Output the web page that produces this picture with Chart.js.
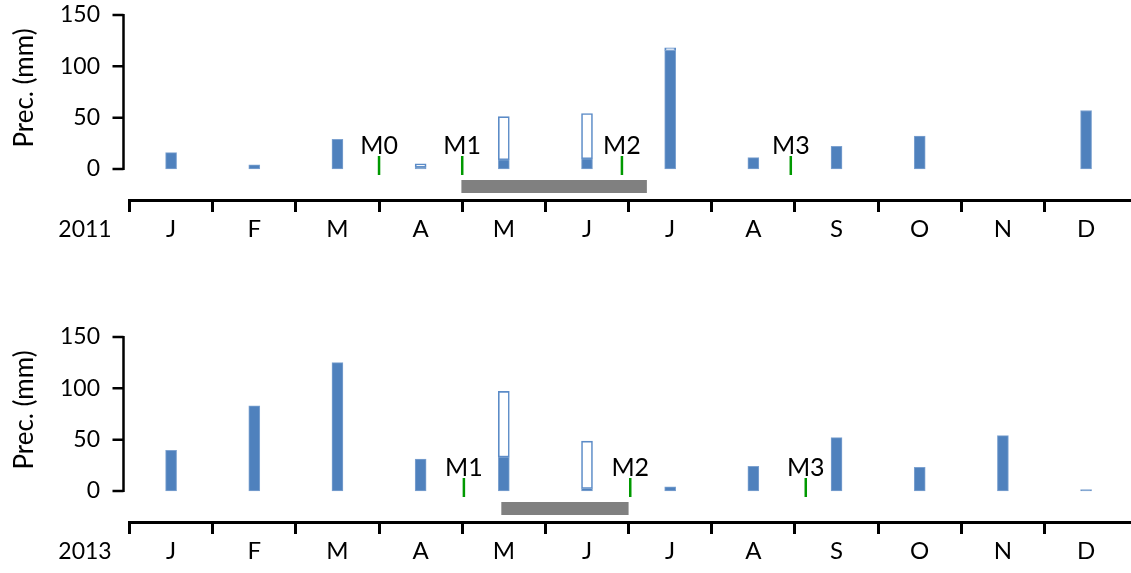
<!DOCTYPE html>
<html><head><meta charset="utf-8">
<script src="https://cdn.jsdelivr.net/npm/chart.js@4.4.0/dist/chart.umd.min.js"></script>
<style>
html,body{margin:0;padding:0;background:#fff;overflow:hidden;}
#wrap{position:relative;width:1131px;height:573px;background:#fff;}
#c1{position:absolute;left:0;top:0;}
#c2{position:absolute;left:0;top:322px;}
</style></head><body>
<div id="wrap"><canvas id="c1" width="1131" height="260"></canvas><canvas id="c2" width="1131" height="251"></canvas></div>
<script>
// ---- data ----
const months = ['J','F','M','A','M','J','J','A','S','O','N','D'];
const yTickValues = [0, 50, 100, 150];
const yTitle = 'Prec. (mm)';

const year2011 = '2011';
const filled2011 = [16, 4, 29, 2, 9, 10, 115.5, 11, 22, 32, null, 57];
const hollow2011 = [null, null, null, 3, 42, 44, 2.5, null, null, null, null, null];
const markerLabels2011 = ['M0', 'M1', 'M2', 'M3'];
const markerMonths2011 = [3.0, 4.0, 5.92, 7.95];
const period2011 = [3.99, 6.22];

const year2013 = '2013';
const filled2013 = [39.5, 83, 125, 31, 33, 2.5, 4, 24, 52, 23, 54, 1.5];
const hollow2013 = [null, null, null, null, 64, 46, null, null, null, null, null, null];
const markerLabels2013 = ['M1', 'M2', 'M3'];
const markerMonths2013 = [4.02, 6.02, 8.13];
const period2013 = [4.47, 6.0];

// ---- styles ----
const FONT = "Lato, 'Open Sans', sans-serif";
const BLUE = '#4F81BD';
const GREEN = '#009900';
const GRAY = '#808080';
const Y_MIN = -30.2, Y_MAX = 150;
const X_MAX = 12.04;
const MARK_Y = 3.5, GRAY_Y = -17;

Chart.defaults.font.family = FONT;
Chart.defaults.color = '#000';

const decoPlugin = {
  id: 'deco',
  afterDraw(chart, args, opts) {
    const ctx = chart.ctx;
    const ys = chart.scales.y;
    const ca = chart.chartArea;
    ctx.save();
    // y axis line and ticks
    const ax = ca.left - 6;
    ctx.strokeStyle = '#000';
    ctx.lineWidth = 2.5;
    ctx.beginPath();
    ctx.moveTo(ax, ys.getPixelForValue(0) + 1);
    ctx.lineTo(ax, ys.getPixelForValue(150) - 1);
    yTickValues.forEach(v => {
      const py = ys.getPixelForValue(v);
      ctx.moveTo(ax, py);
      ctx.lineTo(ax - 11, py);
    });
    ctx.stroke();
    // y title
    ctx.fillStyle = '#000';
    ctx.font = '26px ' + FONT;
    ctx.textAlign = 'center';
    ctx.textBaseline = 'middle';
    ctx.translate(25, 88);
    ctx.rotate(-Math.PI / 2);
    ctx.fillText(yTitle, 0, 0);
    ctx.restore();
    ctx.save();
    // year label
    ctx.fillStyle = '#000';
    ctx.font = '23px ' + FONT;
    ctx.textAlign = 'center';
    ctx.textBaseline = 'alphabetic';
    ctx.fillText(opts.year, 85, 237);
    // marker labels
    const meta = chart.getDatasetMeta(3);
    ctx.font = '25px ' + FONT;
    meta.data.forEach((el, i) => {
      const top = el.y - 9.5;
      ctx.fillText(opts.labels[i], el.x, top - 1.7);
    });
    ctx.restore();
  }
};

function zeroPad(s) { s.paddingTop = 0; s.paddingBottom = 0; s.paddingLeft = 0; s.paddingRight = 0; }

function makePanel(id, year, filled, hollow, mLabels, mMonths, period) {
  const canvas = document.getElementById(id);
  const H = canvas.height;
  return new Chart(canvas, {
    type: 'bar',
    data: {
      datasets: [
        {
          type: 'bar', stack: 'p',
          data: months.map((m, i) => ({x: i + 0.5, y: filled[i]})),
          backgroundColor: BLUE, borderColor: '#7DA2D0', borderWidth: 1,
          borderSkipped: false, barThickness: 11
        },
        {
          type: 'bar', stack: 'p',
          data: months.map((m, i) => ({x: i + 0.5, y: hollow[i]})),
          backgroundColor: '#ffffff', borderColor: '#5B8BC7', borderWidth: 1.6,
          borderSkipped: false, barThickness: 11
        },
        {
          type: 'line', stack: 'g',
          data: [{x: period[0], y: GRAY_Y}, {x: period[1], y: GRAY_Y}],
          borderColor: GRAY, borderWidth: 13, borderCapStyle: 'butt',
          pointRadius: 0, fill: false
        },
        {
          type: 'scatter', stack: 'm',
          data: mMonths.map(x => ({x: x, y: MARK_Y})),
          pointStyle: 'line', rotation: 90, radius: 9.5,
          borderColor: GREEN, backgroundColor: GREEN, borderWidth: 2.5
        }
      ]
    },
    options: {
      responsive: false,
      animation: false,
      devicePixelRatio: 1,
      layout: {autoPadding: false, padding: {top: 15, left: 0, right: 0, bottom: H - 200 - 45}},
      plugins: {legend: {display: false}, tooltip: {enabled: false}, deco: {year: year, labels: mLabels}},
      scales: {
        x: {
          type: 'linear', min: 0, max: X_MAX, stacked: true, offset: false,
          afterBuildTicks: s => { const t = []; for (let k = 0; k <= 24; k++) t.push({value: k / 2}); s.ticks = t; },
          afterFit: s => { s.height = 45; zeroPad(s); },
          ticks: {
            autoSkip: false, maxRotation: 0, minRotation: 0, padding: 3,
            font: {size: 24},
            callback: v => Number.isInteger(v) ? '' : months[Math.floor(v)]
          },
          grid: {
            display: true, offset: false, drawOnChartArea: false, drawTicks: true, tickLength: 12, tickWidth: 3,
            tickColor: c => (c.tick && Number.isInteger(c.tick.value) && c.tick.value < 12) ? '#000' : 'rgba(0,0,0,0)'
          },
          border: {display: true, color: '#000', width: 3}
        },
        y: {
          min: Y_MIN, max: Y_MAX, stacked: true,
          afterBuildTicks: s => { s.ticks = yTickValues.map(v => ({value: v})); },
          afterFit: s => { s.width = 129.5; zeroPad(s); },
          ticks: {padding: 29.5, font: {size: 23}},
          grid: {display: false, drawTicks: false},
          border: {display: false}
        }
      }
    },
    plugins: [decoPlugin]
  });
}

makePanel('c1', year2011, filled2011, hollow2011, markerLabels2011, markerMonths2011, period2011);
makePanel('c2', year2013, filled2013, hollow2013, markerLabels2013, markerMonths2013, period2013);
</script>
</body></html>
